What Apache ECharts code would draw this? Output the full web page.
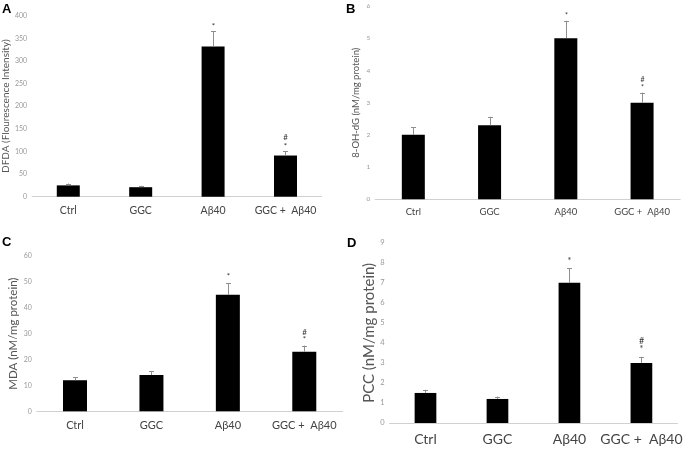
<!DOCTYPE html>
<html>
<head>
<meta charset="utf-8">
<script src="https://cdn.jsdelivr.net/npm/echarts@6/dist/echarts.min.js"></script>
<style>
html,body{margin:0;padding:0;background:#fff;}
#c{width:685px;height:451px;}
</style>
</head>
<body>
<div id="c"></div>
<script>
const categories = ['Ctrl', 'GGC', 'Aβ40', 'GGC +  Aβ40'];
const panelLetters = ['A', 'B', 'C', 'D'];
const axisTitles = ['DFDA (Flourescence Intensity)', '8-OH-dG (nM/mg protein)', 'MDA (nM/mg protein)', 'PCC (nM/mg protein)'];
const dfdaMean = [25, 21, 332, 91];
const dfdaErr = [4, 3, 34, 10];
const ohdgMean = [2.0, 2.3, 5.0, 3.0];
const ohdgErr = [0.23, 0.26, 0.54, 0.31];
const mdaMean = [12, 14, 45, 23];
const mdaErr = [1.2, 1.5, 4.6, 2.4];
const pccMean = [1.5, 1.2, 7.0, 3.0];
const pccErr = [0.16, 0.12, 0.72, 0.3];
const starMarks = ['', '', '*', '*'];
const hashMarks = ['', '', '', '#'];
const yMax = [400, 6, 60, 9];
const yStep = [50, 1, 10, 1];

const means = [dfdaMean, ohdgMean, mdaMean, pccMean];
const errs = [dfdaErr, ohdgErr, mdaErr, pccErr];

// layout/style per panel
const layout = [
  {left: 30.7, width: 291, top: 15.7, height: 181, barW: 23, tick: 7, cat: 10.5, title: 10, gap: 17, catMargin: 8, starOff: 5, hashOff: 14, starSize: 8},
  {left: 375.2, width: 305, top: 6, height: 193.3, barW: 23, tick: 6.5, cat: 9.5, title: 9.5, gap: 14, catMargin: 8, starOff: 5, hashOff: 13, starSize: 7},
  {left: 36.8, width: 305.7, top: 256, height: 155.3, barW: 24, tick: 7, cat: 11, title: 11.5, gap: 15, catMargin: 9, starOff: 6, hashOff: 13.5, starSize: 8},
  {left: 389.5, width: 292, top: 242.7, height: 180.3, barW: 21.7, tick: 7.5, cat: 14, title: 15, gap: 12, catMargin: 9, starOff: 7.5, hashOff: 16, starSize: 9}
];
const letterPos = [[2, 3], [346, 3], [2, 236], [347, 237]];
const FONT = 'Lato, "Open Sans", sans-serif';

const grids = [], xAxes = [], yAxes = [], series = [], graphics = [];
layout.forEach((L, i) => {
  grids.push({left: L.left, top: L.top, width: L.width, height: L.height, containLabel: false});
  xAxes.push({
    type: 'category', gridIndex: i, data: categories,
    axisLine: {lineStyle: {color: '#d0d0d0', width: 1}},
    axisTick: {show: false},
    axisLabel: {color: '#444', fontSize: L.cat, fontFamily: FONT, margin: L.catMargin, interval: 0}
  });
  yAxes.push({
    type: 'value', gridIndex: i, min: 0, max: yMax[i], interval: yStep[i],
    name: axisTitles[i], nameLocation: 'middle', nameGap: L.gap, nameRotate: 90,
    nameTextStyle: {color: '#555', fontSize: L.title, fontFamily: FONT},
    axisLine: {show: false}, axisTick: {show: false}, splitLine: {show: false},
    axisLabel: {color: '#999', fontSize: L.tick, fontFamily: FONT, margin: 5}
  });
  series.push({
    type: 'bar', xAxisIndex: i, yAxisIndex: i, data: means[i],
    barWidth: L.barW, itemStyle: {color: '#000'}, silent: true, animation: false
  });
  const edata = means[i].map((m, k) => [k, m, errs[i][k], k]);
  series.push({
    type: 'custom', xAxisIndex: i, yAxisIndex: i, data: edata, animation: false, silent: true, z: 5,
    renderItem: (params, api) => {
      const k = api.value(0), m = api.value(1), e = api.value(2);
      const p0 = api.coord([k, m]);
      const p1 = api.coord([k, m + e]);
      const x = Math.round(p0[0]) + 0.5;
      const children = [
        {type: 'line', shape: {x1: x, y1: p0[1], x2: x, y2: p1[1]}, style: {stroke: '#8f8f8f', lineWidth: 1}},
        {type: 'line', shape: {x1: x - 2.5, y1: Math.round(p1[1]) + 0.5, x2: x + 2.5, y2: Math.round(p1[1]) + 0.5}, style: {stroke: '#8f8f8f', lineWidth: 1}}
      ];
      const idx = api.value(3);
      if (starMarks[idx]) {
        children.push({type: 'text', style: {text: starMarks[idx], x: x, y: p1[1] - L.starOff, align: 'center', verticalAlign: 'middle', fill: '#333', font: L.starSize + 'px ' + FONT}});
      }
      if (hashMarks[idx]) {
        children.push({type: 'text', style: {text: hashMarks[idx], x: x, y: p1[1] - L.hashOff, align: 'center', verticalAlign: 'middle', fill: '#333', font: L.starSize + 'px ' + FONT}});
      }
      return {type: 'group', children: children};
    }
  });
  graphics.push({type: 'text', left: letterPos[i][0], top: letterPos[i][1], style: {text: panelLetters[i], fill: '#000', font: 'bold 13px "Liberation Sans", Arial, sans-serif'}});
});

const chart = echarts.init(document.getElementById('c'), null, {renderer: 'canvas'});
chart.setOption({
  backgroundColor: '#fff',
  animation: false,
  grid: grids, xAxis: xAxes, yAxis: yAxes, series: series, graphic: graphics
});
</script>
</body>
</html>
